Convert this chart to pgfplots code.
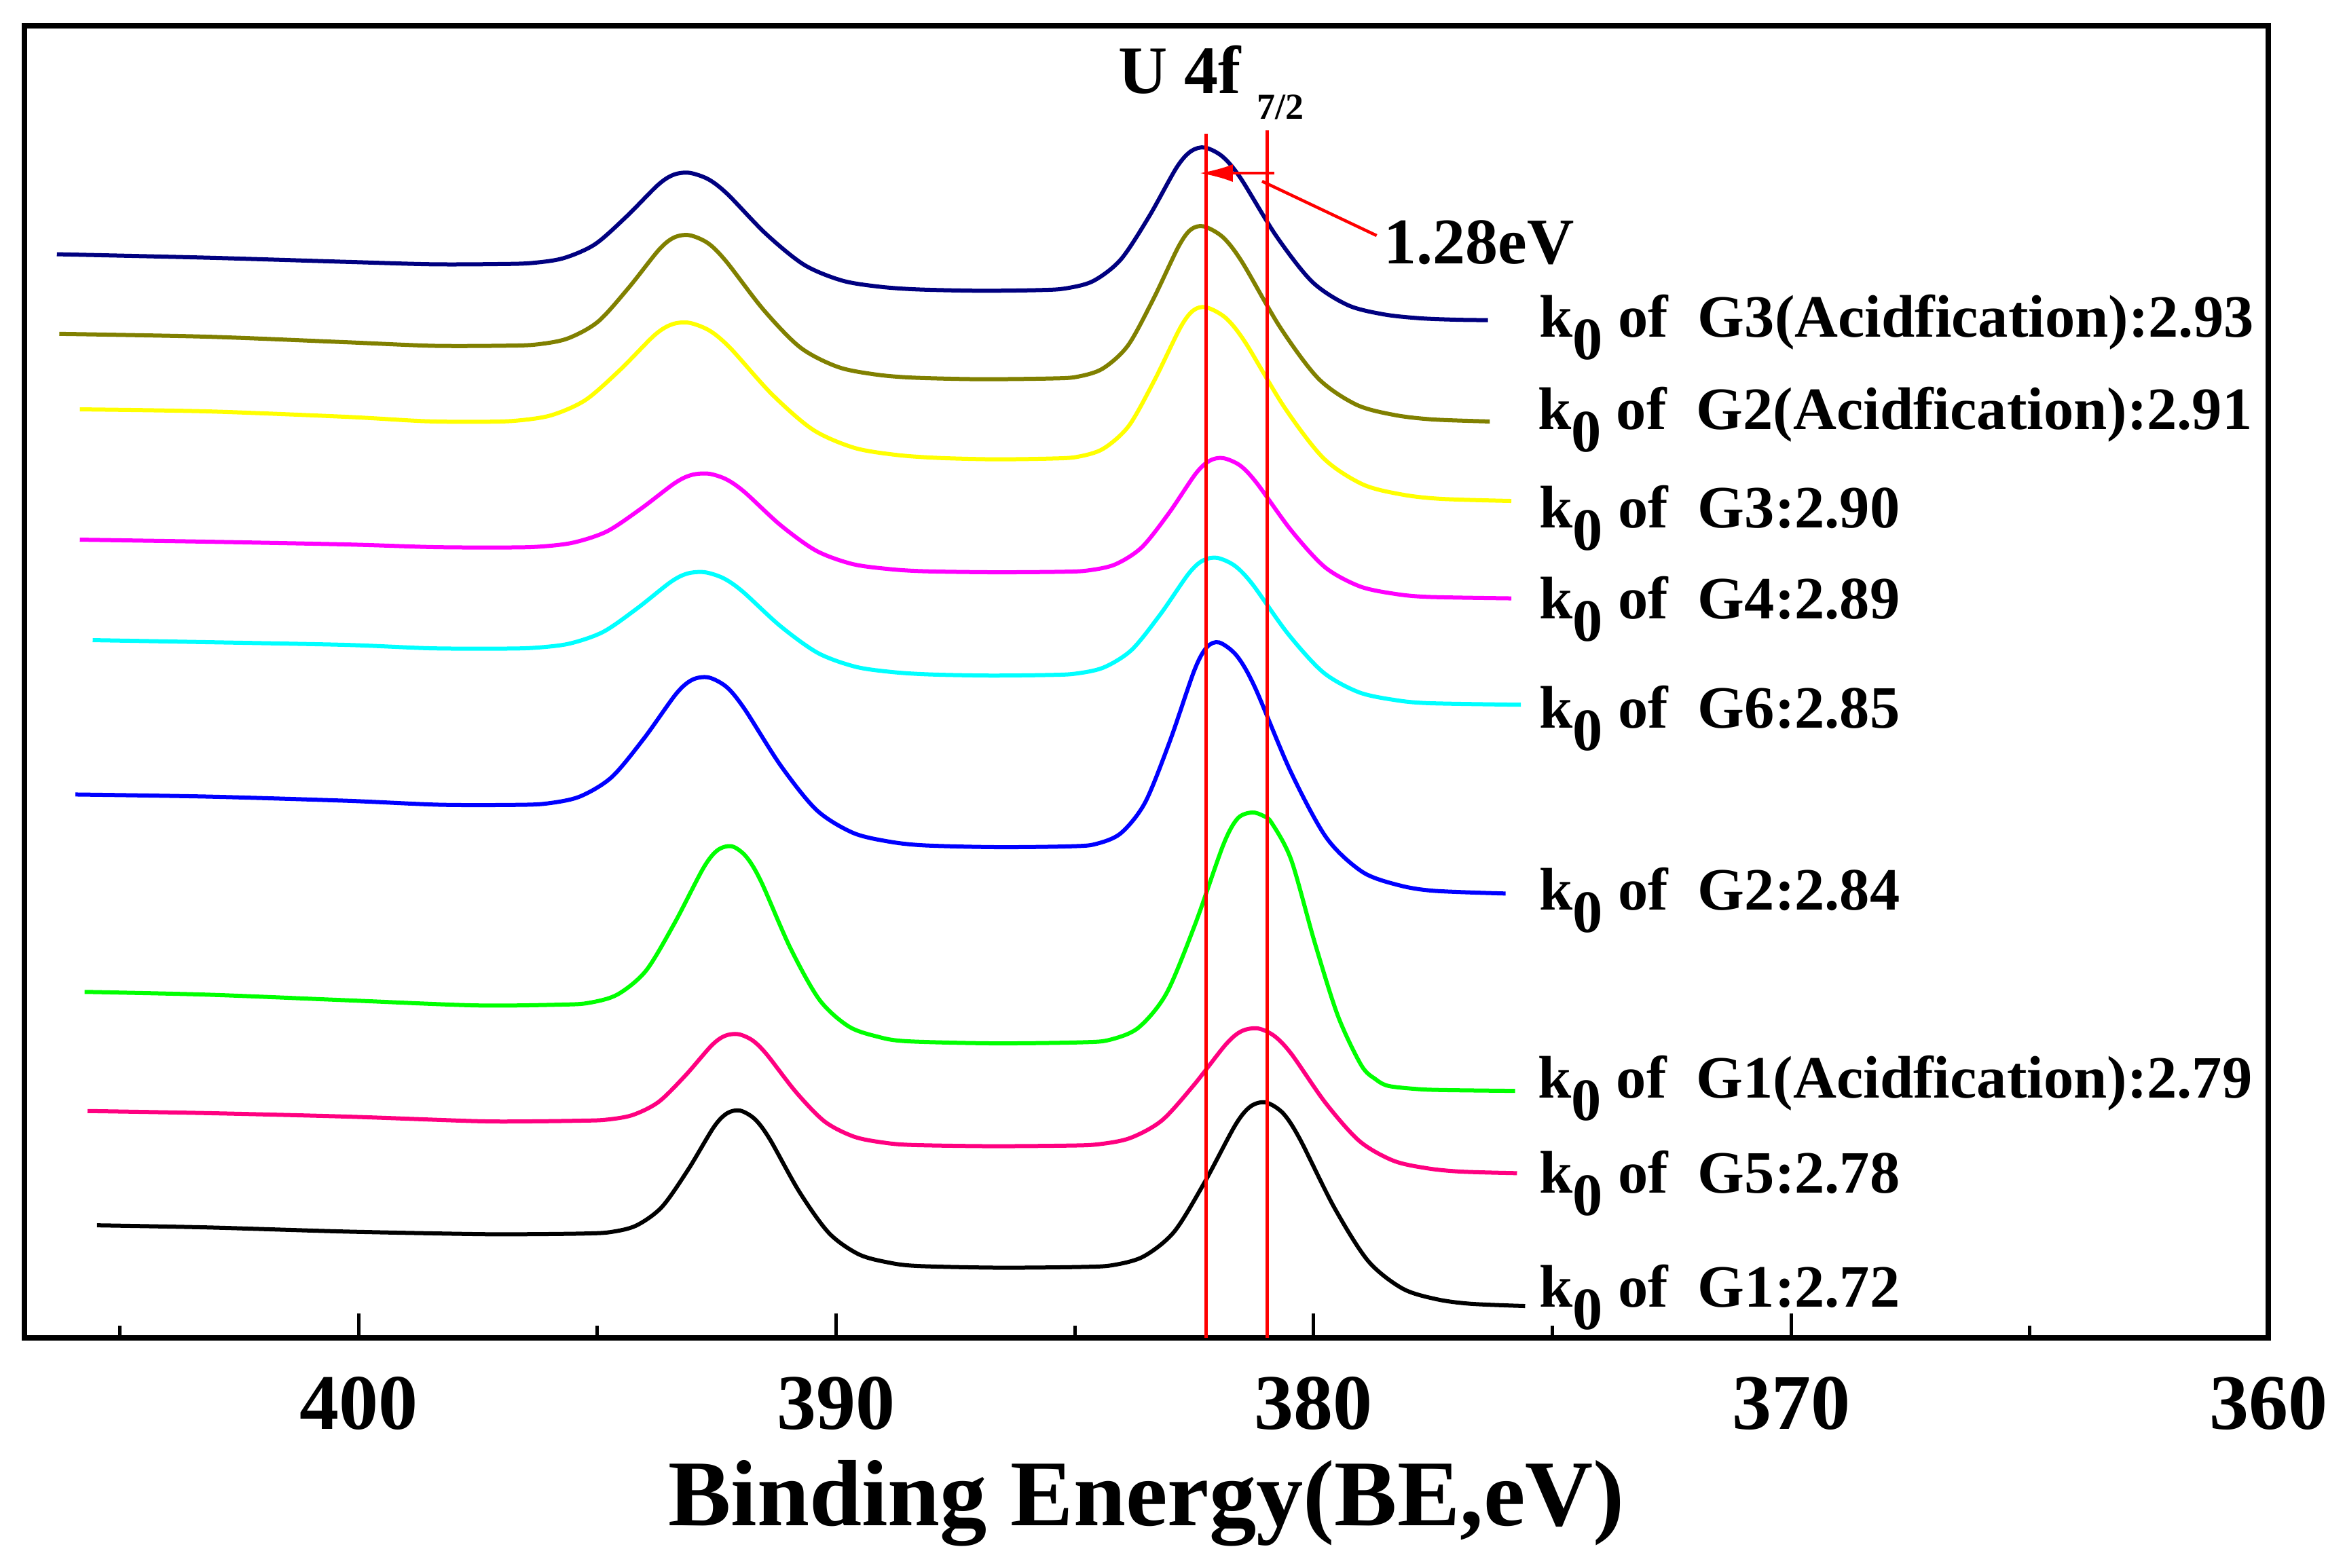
\documentclass[border=0pt]{standalone}
\usepackage{fontspec}
\setmainfont{Liberation Serif}
\usepackage{pgfplots}
\pgfplotsset{compat=1.18}
\usetikzlibrary{arrows.meta}
\definecolor{cnavy}{RGB}{0,0,128}
\definecolor{colive}{RGB}{128,128,0}
\definecolor{cyellow}{RGB}{255,255,0}
\definecolor{cmagenta}{RGB}{255,0,255}
\definecolor{ccyan}{RGB}{0,255,255}
\definecolor{cblue}{RGB}{0,0,255}
\definecolor{cgreen}{RGB}{0,255,0}
\definecolor{cpink}{RGB}{255,0,128}
\definecolor{cred}{RGB}{255,0,0}
\begin{document}
\begin{tikzpicture}
\begin{axis}[
  scale only axis,
  width=330.55pt, height=193.3pt,
  x dir=reverse, y dir=reverse,
  xmin=360, xmax=407.0, ymin=38, ymax=1971,
  axis line style={line width=0.8pt},
  xtick={360,370,380,390,400},
  xticklabels={360,370,380,390,400},
  minor xtick={365,375,385,395,405},
  ytick=\empty,
  xtick pos=left,
  tick align=inside,
  major tick length=3.6pt, minor tick length=1.8pt,
  every tick/.style={black, line width=0.5pt},
  xticklabel style={font=\fontsize{11.6}{12}\selectfont\bfseries, anchor=base, yshift=-13.4pt},
  xlabel={Binding Energy(BE,eV)},
  xlabel style={font=\fontsize{13.85}{15}\selectfont\bfseries, at={(axis description cs:0.5,-0.1428)}, anchor=base},
  clip=false,
  every axis plot/.append style={line width=0.6pt}
]
\coordinate (bl) at (axis description cs:0,0);
% navy: G3(Acidification)
\addplot[cnavy, smooth] coordinates {(406.32,374.5) (403.17,379.6) (400.27,385.7) (398.44,389.3)
 (397.03,388.9) (396.37,387.4) (395.71,380.3) (395.05,359.8) (394.39,318.9) (393.73,272.3) (393.40,257.3) (393.07,254.6) (392.67,264.3) (392.27,286.3) (391.47,344.5) (390.67,390.1) (389.87,413.4) (389.07,422.5) (388.27,426.4)
 (387.0,428.3)
 (385.79,427.4) (385.21,425.0) (384.62,414.1) (384.04,382.4) (383.45,319.4) (382.87,246.8) (382.57,222.8) (382.28,217.3) (381.91,230.5) (381.53,262.3) (380.78,347.9) (380.03,415.1) (379.28,449.6) (378.53,463.1) (377.78,468.8) (377.0,471.0) (376.35,471.6)};
% olive: G2(Acidification)
\addplot[colive, smooth] coordinates {(406.27,491.8) (403.17,496.0) (400.27,504.1) (398.44,509.4)
 (396.91,509.2) (396.27,507.4) (395.63,498.8) (394.99,474.0) (394.35,424.3) (393.71,367.8) (393.39,349.7) (393.07,346.5) (392.68,358.4) (392.30,385.3) (391.52,456.4) (390.75,511.9) (389.97,540.4) (389.20,551.4) (388.42,556.2)
 (387.0,558.6)
 (385.48,557.5) (384.95,555.0) (384.42,543.1) (383.89,509.1) (383.36,441.0) (382.83,363.3) (382.57,338.1) (382.30,333.5) (381.90,349.4) (381.50,385.8) (380.70,482.3) (379.90,557.7) (379.10,596.3) (378.30,611.4) (377.50,617.9) (376.31,620.9)};
% yellow: G3
\addplot[cyellow, smooth] coordinates {(405.84,603.0) (403.17,606.0) (400.27,614.0) (398.6,620.5)
 (397.42,621.3) (396.70,619.7) (395.97,611.8) (395.25,589.3) (394.52,544.5) (393.80,493.5) (393.43,477.6) (393.07,475.6) (392.64,487.5) (392.21,513.2) (391.35,580.4) (390.49,632.8) (389.63,659.5) (388.77,669.9) (387.91,674.4)
 (386.7,676.6)
 (385.49,675.5) (384.95,673.0) (384.41,661.2) (383.87,627.3) (383.33,559.7) (382.79,482.4) (382.52,457.3) (382.25,452.7) (381.84,468.4) (381.43,504.5) (380.61,600.2) (379.79,675.2) (378.97,713.6) (378.15,728.5) (377.33,734.9) (375.86,738.0)};
% magenta: G4
\addplot[cmagenta, smooth] coordinates {(405.84,795.0) (403.17,798.0) (400.27,802.0) (398.4,806.0)
 (396.93,806.5) (396.22,805.3) (395.51,799.4) (394.80,782.8) (394.09,749.5) (393.38,711.7) (393.03,699.7) (392.67,697.8) (392.30,706.1) (391.92,724.7) (391.17,773.3) (390.42,811.2) (389.67,830.7) (388.92,838.1) (388.17,841.5)
 (386.7,843.0)
 (385.29,842.3) (384.73,840.4) (384.16,831.6) (383.60,806.3) (383.03,755.8) (382.47,697.8) (382.18,678.8) (381.90,674.8) (381.54,685.7) (381.19,711.7) (380.47,781.3) (379.76,835.7) (379.04,863.6) (378.33,874.5) (377.61,879.3) (375.86,881.5)};
% cyan: G6
\addplot[ccyan, smooth] coordinates {(405.57,943.0) (403.17,946.0) (400.27,950.0) (398.5,955.0)
 (397.01,955.5) (396.30,954.2) (395.59,948.2) (394.88,930.9) (394.17,896.4) (393.46,857.1) (393.11,844.8) (392.75,843.0) (392.36,851.8) (391.96,871.3) (391.17,922.2) (390.38,962.0) (389.59,982.3) (388.80,990.2) (388.01,993.6)
 (386.8,995.2)
 (385.59,994.4) (385.00,992.5) (384.40,983.4) (383.81,957.3) (383.21,905.0) (382.62,845.3) (382.32,825.7) (382.02,821.8) (381.65,833.5) (381.28,860.7) (380.54,933.4) (379.80,990.4) (379.06,1019.6) (378.32,1031.0) (377.58,1035.9) (375.66,1038.2)};
% blue: G2
\addplot[cblue, smooth] coordinates {(405.93,1170.4) (403.17,1173.5) (400.27,1179.6) (398.3,1185.5)
 (396.72,1185.7) (396.05,1183.6) (395.37,1173.5) (394.70,1144.8) (394.02,1087.4) (393.35,1022.0) (393.01,1001.3) (392.67,998.0) (392.29,1012.3) (391.92,1044.2) (391.16,1127.9) (390.41,1193.3) (389.65,1226.8) (388.90,1239.7) (388.14,1245.4)
 (386.6,1248.0)
 (385.07,1246.7) (384.56,1243.3) (384.04,1227.6) (383.53,1182.3) (383.01,1091.7) (382.50,987.9) (382.24,953.7) (381.98,946.4) (381.61,966.0) (381.23,1012.4) (380.48,1136.8) (379.73,1234.3) (378.98,1284.4) (378.23,1303.8) (377.48,1312.3) (375.98,1316.3)};
% green: G1(Acidification)
\addplot[cgreen, smooth] coordinates {(405.74,1461.2) (403.17,1465.3) (400.27,1473.5) (397.56,1481.1)
 (395.78,1480.0) (395.18,1477.4) (394.58,1465.1) (393.98,1429.8) (393.38,1359.4) (392.78,1278.7) (392.48,1252.3) (392.18,1246.8) (391.88,1262.3) (391.57,1298.9) (390.96,1396.4) (390.35,1472.8) (389.74,1512.0) (389.13,1527.2) (388.52,1533.9)
 (386.7,1537.0)
 (384.86,1535.5) (384.27,1531.8) (383.67,1514.0) (383.08,1463.1) (382.48,1361.3) (381.89,1244.3) (381.59,1205.6) (381.29,1196.9) (381.05,1202.0) (380.88,1212.1) (380.47,1266.6) (379.98,1387.8) (379.49,1496.8) (379.00,1569.5) (378.70,1590.0) (378.43,1599.8) (377.80,1604.5) (377.23,1605.9) (375.78,1607.1)};
% pink: G5
\addplot[cpink, smooth] coordinates {(405.68,1636.7) (403.17,1639.8) (400.27,1644.9) (397.56,1651.6) (396.5,1652.0)
 (395.38,1651.0) (394.83,1649.6) (394.27,1642.8) (393.72,1623.4) (393.16,1584.6) (392.61,1540.3) (392.33,1526.0) (392.05,1523.5) (391.75,1532.7) (391.45,1553.6) (390.84,1608.9) (390.24,1652.2) (389.63,1674.4) (389.03,1683.0) (388.42,1686.7)
 (386.8,1688.5)
 (385.19,1687.7) (384.52,1685.8) (383.85,1676.7) (383.18,1650.7) (382.51,1598.6) (381.84,1538.7) (381.51,1519.1) (381.17,1515.0) (380.82,1526.3) (380.46,1553.1) (379.75,1624.8) (379.04,1681.0) (378.33,1709.9) (377.62,1721.1) (376.91,1726.0) (375.74,1728.3)};
% black: G1
\addplot[black, smooth] coordinates {(405.48,1805.1) (403.17,1808.2) (400.27,1814.3) (397.56,1818.0) (396.5,1818.2)
 (395.28,1817.2) (394.73,1815.1) (394.19,1805.6) (393.65,1778.1) (393.10,1723.1) (392.56,1660.2) (392.28,1639.9) (392.01,1636.1) (391.70,1648.8) (391.39,1678.1) (390.77,1755.8) (390.15,1816.5) (389.53,1847.7) (388.91,1859.8) (388.29,1865.0)
 (386.6,1867.5)
 (384.84,1866.4) (384.20,1863.7) (383.56,1850.9) (382.92,1814.5) (382.28,1741.3) (381.64,1657.4) (381.32,1629.9) (381.00,1624.1) (380.64,1640.0) (380.29,1677.7) (379.57,1778.6) (378.86,1857.5) (378.14,1898.2) (377.43,1913.9) (376.71,1920.7) (375.57,1924.0)};
% red reference lines
\addplot[cred, line width=0.45pt] coordinates {(382.25,197) (382.25,1971)};
\addplot[cred, line width=0.45pt] coordinates {(380.97,192) (380.97,1971)};
\draw[cred, line width=0.45pt, -{Latex[length=4.9pt,width=2.6pt]}] (axis cs:380.82,255) -- (axis cs:382.39,255);
\draw[cred, line width=0.45pt] (axis cs:381.08,267) -- (axis cs:378.68,347);
\node[anchor=base west, inner sep=0pt, font=\fontsize{10}{12}\selectfont\bfseries] at (axis cs:384.11,137) {U 4f};
\node[anchor=base west, inner sep=0pt, font=\fontsize{5.4}{6}\selectfont\bfseries] at (axis cs:381.21,175) {7/2};
\node[anchor=base west, inner sep=0pt, font=\fontsize{9.6}{11}\selectfont\bfseries] at (axis cs:378.55,388) {1.28eV};
\tikzset{lab/.style={anchor=base west, inner sep=0pt, font=\fontsize{8.85}{10}\selectfont\bfseries}}
\node[lab] at (axis cs:375.30,496) {k\raisebox{-3.3pt}{0} of\ \ G3(Acidfication):2.93};
\node[lab] at (axis cs:375.33,632) {k\raisebox{-3.3pt}{0} of\ \ G2(Acidfication):2.91};
\node[lab] at (axis cs:375.30,777) {k\raisebox{-3.3pt}{0} of\ \ G3:2.90};
\node[lab] at (axis cs:375.30,911) {k\raisebox{-3.3pt}{0} of\ \ G4:2.89};
\node[lab] at (axis cs:375.30,1072) {k\raisebox{-3.3pt}{0} of\ \ G6:2.85};
\node[lab] at (axis cs:375.30,1340) {k\raisebox{-3.3pt}{0} of\ \ G2:2.84};
\node[lab] at (axis cs:375.33,1617) {k\raisebox{-3.3pt}{0} of\ \ G1(Acidfication):2.79};
\node[lab] at (axis cs:375.30,1757) {k\raisebox{-3.3pt}{0} of\ \ G5:2.78};
\node[lab] at (axis cs:375.30,1925) {k\raisebox{-3.3pt}{0} of\ \ G1:2.72};
\end{axis}
\pgfresetboundingbox
\path[use as bounding box] (bl) ++(-3.6pt,-33.8pt) rectangle ++(345.4pt,230.9pt);
\end{tikzpicture}
\end{document}
